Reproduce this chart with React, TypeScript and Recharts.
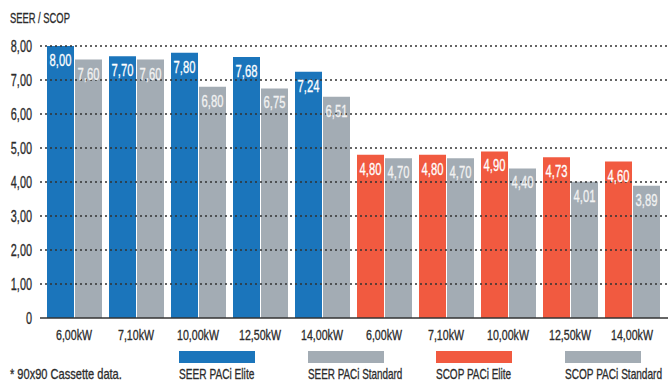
import React from 'react';
import { BarChart, Bar, XAxis, YAxis, Cell, LabelList, ReferenceLine } from 'recharts';

const categories = ['6,00kW', '7,10kW', '10,00kW', '12,50kW', '14,00kW', '6,00kW', '7,10kW', '10,00kW', '12,50kW', '14,00kW'];
const eliteValues = [8.0, 7.7, 7.8, 7.68, 7.24, 4.8, 4.8, 4.9, 4.73, 4.6];
const standardValues = [7.6, 7.6, 6.8, 6.75, 6.51, 4.7, 4.7, 4.4, 4.01, 3.89];
const metricGroup = ['SEER', 'SEER', 'SEER', 'SEER', 'SEER', 'SCOP', 'SCOP', 'SCOP', 'SCOP', 'SCOP'];
const yTicks = [0, 1, 2, 3, 4, 5, 6, 7, 8];
const legendLabels = ['SEER PACi Elite', 'SEER PACi Standard', 'SCOP PACi Elite', 'SCOP PACi Standard'];

const BLUE = '#1b75bb';
const RED = '#f15a40';
const GRAY = '#a3acb4';
const TEXT = '#2b2b2b';
const legendColors = [BLUE, GRAY, RED, GRAY];
const legendX = [179, 308, 436, 565];
const legendScale = [0.725, 0.707, 0.714, 0.72];
const FONT = '"Liberation Sans", Arial, sans-serif';

const data = categories.map((c, i) => ({
  name: c,
  elite: eliteValues[i],
  standard: standardValues[i],
  group: metricGroup[i],
}));

const fmt = (v: number) => (v === 0 ? '0' : v.toFixed(2).replace('.', ','));

const sq = (cx: number, s: number) => `translate(${cx} 0) scale(${s} 1) translate(${-cx} 0)`;

const XTick = (props: any) => {
  const { x, y, payload } = props;
  return (
    <text x={x} y={y + 22} textAnchor="middle" fontSize={14} fontFamily={FONT} fill={TEXT} stroke={TEXT} strokeWidth={0.3} transform={sq(x, 0.76)}>
      {payload.value}
    </text>
  );
};

const YTick = (props: any) => {
  const { x, y, payload } = props;
  return (
    <text x={x} y={y + 6} textAnchor="end" fontSize={16} fontFamily={FONT} fill={TEXT} stroke={TEXT} strokeWidth={0.3} transform={sq(x, 0.68)}>
      {fmt(payload.value)}
    </text>
  );
};

const makeLabel = (color: string) => (props: any) => {
  const { x, y, width, value } = props;
  const cx = Number(x) + Number(width) / 2;
  return (
    <text x={cx} y={Number(y) + 20} textAnchor="middle" fontSize={17} fontFamily={FONT} fill={color} stroke={color} strokeWidth={0.3} transform={sq(cx, 0.66)}>
      {fmt(Number(value))}
    </text>
  );
};

export default function App() {
  return (
    <div style={{ position: 'absolute', left: 0, top: 0, width: 668, height: 382, background: '#fff' }}>
      <BarChart
        width={668}
        height={382}
        data={data}
        margin={{ top: 46, right: 0, bottom: 34, left: 0 }}
        barCategoryGap={4}
        barGap={1}
      >
        <XAxis
          dataKey="name"
          interval={0}
          height={30}
          tickLine={false}
          tickSize={0}
          tickMargin={0}
          axisLine={{ stroke: '#333', strokeWidth: 1.5 }}
          padding={{ left: 3, right: 5 }}
          tick={<XTick />}
        />
        <YAxis
          width={40}
          domain={[0, 8]}
          ticks={yTicks}
          interval={0}
          axisLine={false}
          tickLine={false}
          tickSize={0}
          tickMargin={8}
          tick={<YTick />}
        />
        <Bar dataKey="elite" isAnimationActive={false}>
          {data.map((d, i) => (
            <Cell key={i} fill={d.group === 'SEER' ? BLUE : RED} />
          ))}
          <LabelList dataKey="elite" content={makeLabel('#ffffff')} />
        </Bar>
        <Bar dataKey="standard" fill={GRAY} isAnimationActive={false}>
          <LabelList dataKey="standard" content={makeLabel('#f2f2f2')} />
        </Bar>
        {yTicks.filter((t) => t > 0).map((t) => (
          <ReferenceLine key={t} y={t} stroke="#333" strokeWidth={1.3} strokeDasharray="2 3" />
        ))}
      </BarChart>
      <svg width={668} height={382} style={{ position: 'absolute', left: 0, top: 0, pointerEvents: 'none' }}>
        <text x={10} y={23} fontSize={14} fontFamily={FONT} fill={TEXT} stroke={TEXT} strokeWidth={0.3} transform={sq(10, 0.67)}>
          SEER / SCOP
        </text>
        <text x={10} y={379} fontSize={14} fontFamily={FONT} fill={TEXT} stroke={TEXT} strokeWidth={0.3} transform={sq(10, 0.79)}>
          * 90x90 Cassette data.
        </text>
        {legendLabels.map((label, i) => (
          <g key={i}>
            <rect x={legendX[i]} y={351} width={76} height={12} fill={legendColors[i]} />
            <text
              x={legendX[i]}
              y={379}
              fontSize={14}
              fontFamily={FONT}
              fill={TEXT}
              stroke={TEXT}
              strokeWidth={0.3}
              transform={sq(legendX[i], legendScale[i])}
            >
              {label}
            </text>
          </g>
        ))}
      </svg>
    </div>
  );
}
